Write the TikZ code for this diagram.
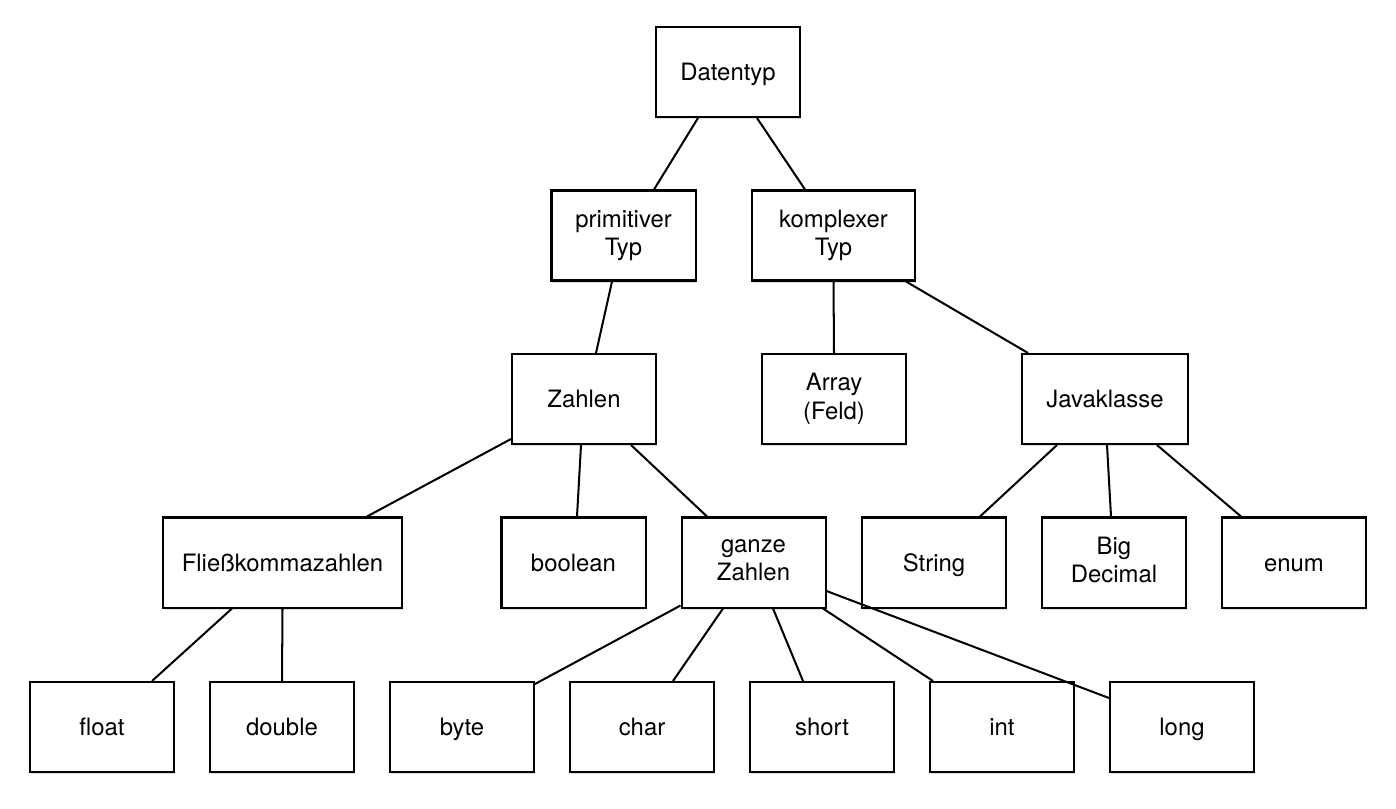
\documentclass[tikz,border=0pt]{standalone}
\usepackage{fontspec}
\setmainfont{TeX Gyre Heros}
\usepackage{tikz}
\usetikzlibrary{shadows}

\newcommand{\boxstrut}{\rule[-3.1pt]{0pt}{16pt}}

\tikzset{
    typbox/.style={draw, rectangle, fill=white, line width=1.15pt, align=center,
        minimum width=2.88cm, minimum height=1.8cm, inner sep=2pt,
        font=\fontsize{13.6}{16}\selectfont,
        execute at begin node={\boxstrut}, execute at end node={\boxstrut},
        drop shadow={shadow xshift=0.5pt, shadow yshift=-1.3pt, opacity=0.25}},
    kante/.style={line width=1.15pt}
}

\begin{document}
\begin{tikzpicture}
    \useasboundingbox (0,0) rectangle (27.92,-16.16);

    % Wurzel und erste Ebene
    \node[typbox] (datentyp) at (14.56,-1.44) {Datentyp};
    \node[typbox] (primitiv) at (12.47,-4.71) {primitiver\\Typ};
    \node[typbox, minimum width=3.26cm] (komplex) at (16.67,-4.71) {komplexer\\Typ};

    \node[typbox] (zahlen) at (11.68,-7.98) {Zahlen};
    \node[typbox] (array) at (16.68,-7.98) {Array\\(Feld)};
    \node[typbox, minimum width=3.32cm] (java) at (22.10,-7.98) {Javaklasse};

    \node[typbox, minimum width=4.78cm] (fliess) at (5.65,-11.25) {Fließkommazahlen};
    \node[typbox] (bool) at (11.47,-11.25) {boolean};
    \node[typbox] (ganze) at (15.07,-11.25) {ganze\\Zahlen};
    \node[typbox] (string) at (18.68,-11.25) {String};
    \node[typbox] (bigdec) at (22.28,-11.25) {Big\\Decimal};
    \node[typbox] (enum) at (25.88,-11.25) {enum};

    % unterste Reihe
    \foreach \name [count=\i from 0] in {float,double,byte,char,short,int,long} {
        \node[typbox] (\name) at (2.04+\i*3.6,-14.54) {\name};
    }

    % Verbindungen
    \draw[kante] ([xshift=-0.60cm]datentyp.south) -- ([xshift=0.61cm]primitiv.north);
    \draw[kante] ([xshift=0.58cm]datentyp.south) -- ([xshift=-0.57cm]komplex.north);
    \draw[kante] ([xshift=-0.23cm]primitiv.south) -- ([xshift=0.24cm]zahlen.north);
    \draw[kante] (komplex.south) -- (array.north);
    \draw[kante] ([xshift=1.45cm]komplex.south) -- ([xshift=-1.54cm]java.north);
    \draw[kante] ([yshift=0.12cm]zahlen.south west) -- ([xshift=1.69cm]fliess.north);
    \draw[kante] ([xshift=-0.06cm]zahlen.south) -- ([xshift=0.07cm]bool.north);
    \draw[kante] ([xshift=0.94cm]zahlen.south) -- ([xshift=-0.93cm]ganze.north);
    \draw[kante] ([xshift=-1.01cm]fliess.south) -- ([xshift=1.00cm]float.north);
    \draw[kante] (fliess.south) -- (double.north);
    \draw[kante] ([yshift=0.06cm]ganze.south west) -- ([yshift=-0.06cm]byte.north east);
    \draw[kante] ([xshift=-0.61cm]ganze.south) -- ([xshift=0.62cm]char.north);
    \draw[kante] ([xshift=0.39cm]ganze.south) -- ([xshift=-0.38cm]short.north);
    \draw[kante] ([xshift=1.39cm]ganze.south) -- ([xshift=-1.38cm]int.north);
    \draw[kante] ([yshift=-0.57cm]ganze.east) -- ([yshift=0.58cm]long.west);
    \draw[kante] ([xshift=-0.96cm]java.south) -- ([xshift=0.92cm]string.north);
    \draw[kante] ([xshift=0.04cm]java.south) -- ([xshift=-0.06cm]bigdec.north);
    \draw[kante] ([xshift=1.04cm]java.south) -- ([xshift=-1.06cm]enum.north);
\end{tikzpicture}
\end{document}
